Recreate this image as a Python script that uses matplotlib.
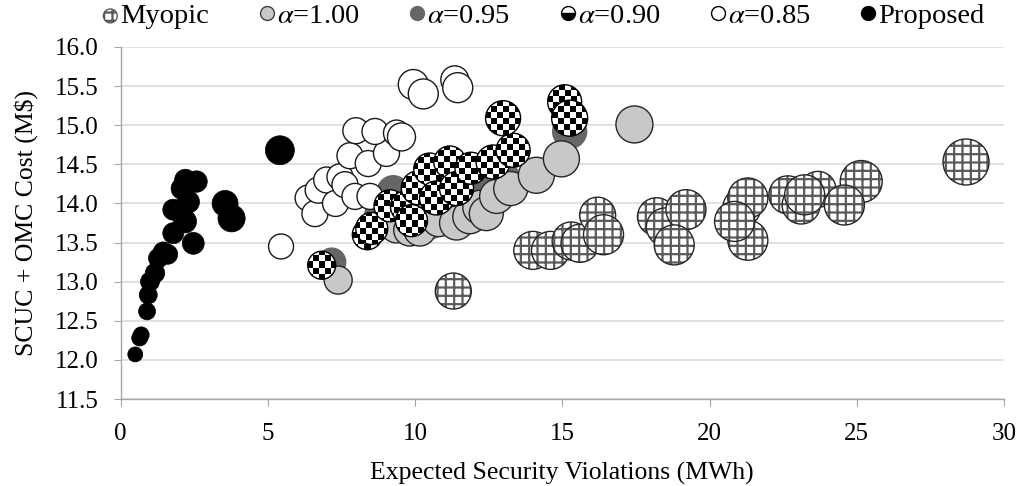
import numpy as np
import matplotlib
matplotlib.use("Agg")
import matplotlib.pyplot as plt
from matplotlib.lines import Line2D
from matplotlib.patches import Circle
from matplotlib.transforms import IdentityTransform

plt.rcParams["font.family"] = ["Liberation Serif", "DejaVu Serif"]
plt.rcParams["mathtext.fontset"] = "stix"
plt.rcParams["hatch.linewidth"] = 1.6

# ---------------------------------------------------------------------------
# data (x = expected violations MWh, y = cost M$, size = bubble size)
# ---------------------------------------------------------------------------
myopic_x = [11.3, 14.0, 14.6, 15.3, 15.6, 16.2, 16.4, 18.2, 18.5, 19.2, 18.8,
            21.1, 21.3, 21.3, 20.85, 22.66, 23.68, 23.11, 23.23, 25.15, 24.58, 28.71]
myopic_y = [12.88, 13.40, 13.40, 13.52, 13.49, 13.85, 13.60, 13.83, 13.70, 13.92, 13.47,
            13.95, 14.07, 13.53, 13.77, 14.11, 14.18, 13.98, 14.11, 14.28, 13.98, 14.53]
myopic_size = [3.24, 3.61, 3.61, 3.61, 3.61, 3.24, 4.0, 3.61, 3.61, 4.0, 4.0,
               3.61, 4.0, 4.0, 4.0, 3.61, 3.24, 3.61, 4.0, 4.41, 4.0, 5.29]

a100_x = [7.39, 17.45, 9.37, 9.82, 10.16, 10.8, 11.41, 11.86, 12.2, 12.42, 12.77, 13.25, 14.12, 14.97]
a100_y = [13.02, 15.01, 13.70, 13.66, 13.66, 13.78, 13.75, 13.83, 13.95, 13.87, 14.09, 14.19, 14.36, 14.57]
a100_size = [1.96, 3.42, 2.56, 2.56, 2.56, 2.56, 2.89, 2.89, 2.89, 2.89, 2.89, 2.89, 3.24, 3.24]

a095_x = [7.17, 8.8, 9.26, 10.5, 11.07, 11.86, 12.2, 12.98, 15.25]
a095_y = [13.25, 13.85, 14.15, 13.75, 13.83, 13.96, 14.21, 14.34, 14.92]
a095_size = [1.96, 2.25, 2.56, 2.56, 2.56, 2.56, 2.56, 2.56, 2.89]

a090_x = [6.83, 8.38, 8.53, 9.15, 9.71, 9.88, 10.11, 10.5, 10.73, 11.18, 11.41,
          11.9, 12.65, 13.33, 12.99, 15.08, 15.25]
a090_y = [13.21, 13.60, 13.68, 13.97, 13.96, 13.78, 14.20, 14.44, 14.07, 14.53, 14.19,
          14.45, 14.53, 14.68, 15.09, 15.30, 15.09]
a090_size = [1.96, 2.25, 2.56, 2.56, 2.56, 2.56, 2.89, 2.56, 2.89, 2.56, 2.89,
             2.56, 2.89, 2.89, 3.06, 2.89, 3.24]

a085_x = [5.45, 6.37, 6.60, 6.71, 7.0, 7.3, 7.45, 7.62, 7.96, 8.47, 7.79, 8.41, 9.03,
          7.99, 8.64, 9.37, 9.54, 9.94, 10.28, 11.35, 11.45]
a085_y = [13.45, 14.07, 13.87, 14.17, 14.30, 14.0, 14.34, 14.24, 14.09, 14.09, 14.61, 14.51, 14.64,
          14.93, 14.92, 14.90, 14.85, 15.52, 15.40, 15.58, 15.48]
a085_size = [1.56, 1.69, 1.69, 1.69, 1.69, 1.69, 1.69, 1.69, 1.69, 1.69, 1.69, 1.69, 1.69,
             1.69, 1.69, 1.69, 1.96, 2.25, 2.25, 1.96, 2.25]

prop_x = [0.5, 0.65, 0.7, 0.9, 0.94, 1.0, 1.17, 1.28, 1.45, 1.6, 1.79, 1.79, 2.19, 2.08,
          2.30, 2.20, 2.58, 2.47, 3.55, 3.77, 5.41]
prop_y = [12.07, 12.28, 12.32, 12.62, 12.83, 13.0, 13.11, 13.30, 13.38, 13.35, 13.62, 13.92,
          13.77, 14.19, 14.02, 14.30, 14.28, 13.49, 14.0, 13.81, 14.68]
prop_size = [0.56, 0.64, 0.64, 0.72, 0.81, 0.9, 0.95, 0.95, 1.0, 1.0, 1.1, 1.1, 1.32, 1.15,
             1.25, 1.15, 1.15, 1.2, 1.69, 1.85, 2.1]

legend_labels = ["Myopic", r"$\alpha$=1.00", r"$\alpha$=0.95", r"$\alpha$=0.90",
                 r"$\alpha$=0.85", "Proposed"]

DPI = 100
R_UNIT = 10.0                              # bubble radius (px) at size 1
S_UNIT = (2 * R_UNIT * 72 / DPI) ** 2      # scatter area (pt^2) at size 1
CELL = 6.0                                 # checker square (px)

fig = plt.figure(figsize=(10.19, 4.86), dpi=DPI)
ax = fig.add_axes([0.1183, 0.179, 0.867, 0.7243])
ax.set_xlim(0, 30)
ax.set_ylim(11.5, 16.0)

# myopic: grey cross hatch, dark outline, one bubble at a time so outlines stack right
for i, (x, y, sz) in enumerate(zip(myopic_x, myopic_y, myopic_size)):
    z = 2 + i * 0.01
    ax.scatter([x], [y], s=sz * S_UNIT, facecolor="white", edgecolor="#5a5a5a",
               hatch="++", linewidth=0, zorder=z)
    ax.scatter([x], [y], s=sz * S_UNIT, facecolor="none", edgecolor="#262626",
               linewidth=1.0, zorder=z + 0.005)

ax.scatter(a095_x, a095_y, s=np.array(a095_size) * S_UNIT, facecolor="#666666",
           edgecolor="#666666", linewidth=1.0, zorder=3)
ax.scatter(a100_x, a100_y, s=np.array(a100_size) * S_UNIT, facecolor="#c8c8c8",
           edgecolor="#262626", linewidth=1.0, zorder=4)
ax.scatter(a085_x, a085_y, s=np.array(a085_size) * S_UNIT, facecolor="white",
           edgecolor="#1a1a1a", linewidth=1.0, zorder=5)

# alpha=0.90: checkerboard clipped to each bubble
for i, (x, y, sz) in enumerate(zip(a090_x, a090_y, a090_size)):
    z = 6 + i * 0.01
    r = R_UNIT * np.sqrt(sz)
    cx, cy = ax.transData.transform((x, y))
    n = int(np.ceil(2 * r / CELL))
    half = n * CELL / 2
    (x0, y0), (x1, y1) = ax.transData.inverted().transform(
        [(cx - half, cy - half), (cx + half, cy + half)])
    board = np.indices((n, n)).sum(axis=0) % 2
    im = ax.imshow(board, cmap="gray", vmin=0, vmax=1, extent=(x0, x1, y0, y1),
                   interpolation="nearest", aspect="auto", zorder=z)
    im.set_clip_path(Circle((cx, cy), r, transform=IdentityTransform()))
    ax.scatter([x], [y], s=sz * S_UNIT, facecolor="none", edgecolor="black",
               linewidth=1.0, zorder=z + 0.005)

ax.scatter(prop_x, prop_y, s=np.array(prop_size) * S_UNIT, facecolor="black",
           edgecolor="black", linewidth=0.5, zorder=7)

ax.set_xlim(0, 30)
ax.set_ylim(11.5, 16.0)
ax.set_xticks(np.arange(0, 31, 5))
ax.set_yticks(np.arange(11.5, 16.01, 0.5))
ax.yaxis.set_major_formatter(matplotlib.ticker.FormatStrFormatter("%.1f"))
ax.grid(axis="y", color="#d9d9d9", linewidth=1.1, zorder=0)
ax.set_axisbelow(True)
for side in ("top", "right"):
    ax.spines[side].set_visible(False)
for side in ("left", "bottom"):
    ax.spines[side].set_color("#a6a6a6")
    ax.spines[side].set_linewidth(1.0)
ax.tick_params(axis="both", direction="out", length=5, color="#a6a6a6", labelsize=18)
ax.tick_params(axis="y", pad=11)
ax.tick_params(axis="x", pad=12)

ax.set_xlabel("Expected Security Violations (MWh)", fontsize=18.5)
ax.set_ylabel("SCUC + OMC Cost (M$)", fontsize=18.5)
ax.yaxis.set_label_coords(-0.093, 0.5)
ax.xaxis.set_label_coords(0.5, -0.18)

# legend
h_myo = ax.scatter([], [], s=100, facecolor="white", edgecolor="#5a5a5a", hatch="++",
                   linewidth=1.0)
handles = [
    h_myo,
    Line2D([], [], ls="none", marker="o", ms=10, mfc="#c8c8c8", mec="#404040", mew=1.0),
    Line2D([], [], ls="none", marker="o", ms=10, mfc="#666666", mec="#666666", mew=1.0),
    Line2D([], [], ls="none", marker="o", ms=10, mfc="black", mfcalt="white",
           fillstyle="bottom", mec="black", mew=1.0),
    Line2D([], [], ls="none", marker="o", ms=10, mfc="white", mec="black", mew=1.0),
    Line2D([], [], ls="none", marker="o", ms=10, mfc="black", mec="black", mew=1.0),
]
fig.legend(handles, legend_labels, loc="upper center", bbox_to_anchor=(0.533, 1.028),
           ncol=6, frameon=False, fontsize=20.5, handlelength=0.6, handletextpad=0.05,
           columnspacing=1.73, borderaxespad=0.2)

fig.savefig("out.png", dpi=DPI)
